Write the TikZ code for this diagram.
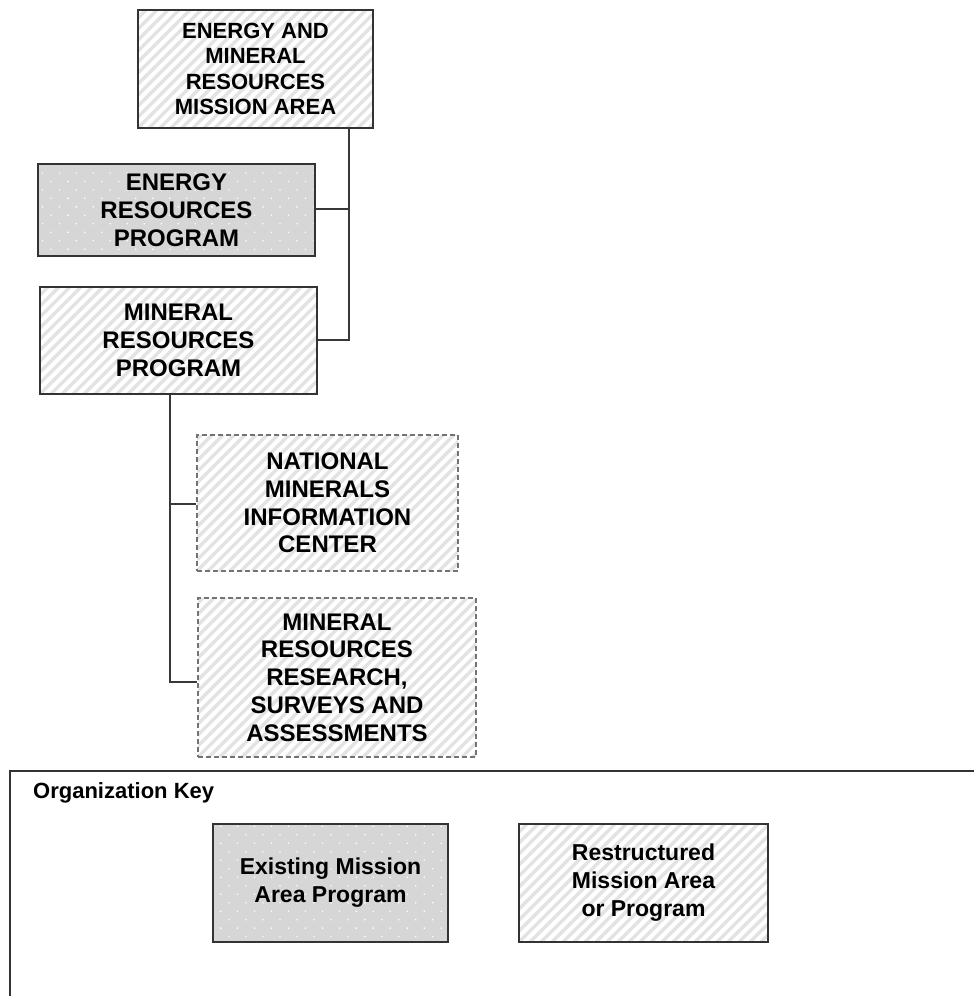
\documentclass[tikz,border=0pt]{standalone}
\usepackage{fontspec}
\setmainfont{Liberation Sans}
\usetikzlibrary{patterns.meta}
\begin{document}
\begin{tikzpicture}[x=1pt,y=-1pt,
  hatch/.style={fill=white,
    path picture={\foreach \k in {-176,-165,...,300}
      \draw[solid,black!11,line width=3.4pt] ([xshift=\k pt]path picture bounding box.south west) -- ++(320,-320);}},
  dotty/.style={preaction={fill=black!16},
    pattern={Dots[angle=45,distance=12pt,radius=0.9pt]},
    pattern color=white},
  solidbox/.style={draw=black!80,line width=1.5pt,align=center,inner sep=0pt},
  dashbox/.style={draw=black!55,line width=1.5pt,dash pattern=on 5pt off 3pt,align=center,inner sep=0pt},
  bigtxt/.style={font=\fontsize{24}{27.8}\selectfont\bfseries},
  toptxt/.style={font=\fontsize{22}{25.3}\selectfont\bfseries},
  keytxt/.style={font=\fontsize{23}{28}\selectfont\bfseries},
  conn/.style={draw=black!78,line width=1.5pt}]
\useasboundingbox (0,0) rectangle (974,996);

% boxes
\node[solidbox,hatch,toptxt,minimum width=235pt,minimum height=118pt] (ema) at (255.5,69)
  {ENERGY AND\\MINERAL\\RESOURCES\\MISSION AREA};
\node[solidbox,dotty,bigtxt,minimum width=277pt,minimum height=92pt] (erp) at (176.5,210)
  {ENERGY\\RESOURCES\\PROGRAM};
\node[solidbox,hatch,bigtxt,minimum width=277pt,minimum height=107pt] (mrp) at (178.5,340.5)
  {MINERAL\\RESOURCES\\PROGRAM};
\node[dashbox,hatch,bigtxt,minimum width=261pt,minimum height=136pt] (nmic) at (327.5,503)
  {NATIONAL\\MINERALS\\INFORMATION\\CENTER};
\node[dashbox,hatch,bigtxt,minimum width=278pt,minimum height=159pt] (mrrsa) at (337,677.5)
  {MINERAL\\RESOURCES\\RESEARCH,\\SURVEYS AND\\ASSESSMENTS};

% connectors
\coordinate (j1) at (349,209);
\coordinate (j2) at (349,340);
\draw[conn] (ema.south -| j1) -- (j2) -- (mrp.east |- j2);
\draw[conn] (erp.east |- j1) -- (j1);
\coordinate (b1) at (170,504);
\coordinate (b2) at (170,682);
\draw[conn] (mrp.south -| b1) -- (b2) -- (mrrsa.west |- b2);
\draw[conn] (b1) -- (nmic.west |- b1);

% key
\coordinate (kbl) at (10,1000);
\coordinate (ktl) at (10,771);
\coordinate (ktr) at (980,771);
\draw[draw=black!80,line width=1.5pt] (kbl) -- (ktl) -- (ktr);
\node[anchor=base west,inner sep=0pt,font=\fontsize{22}{26}\selectfont\bfseries] (orgkey) at (33,798) {Organization Key};
\node[solidbox,dotty,keytxt,minimum width=235pt,minimum height=118pt] (kexist) at (330.5,883)
  {Existing Mission\\Area Program};
\node[solidbox,hatch,keytxt,minimum width=249pt,minimum height=118pt] (krestr) at (643.5,883)
  {Restructured\\Mission Area\\or Program};
\end{tikzpicture}
\end{document}
